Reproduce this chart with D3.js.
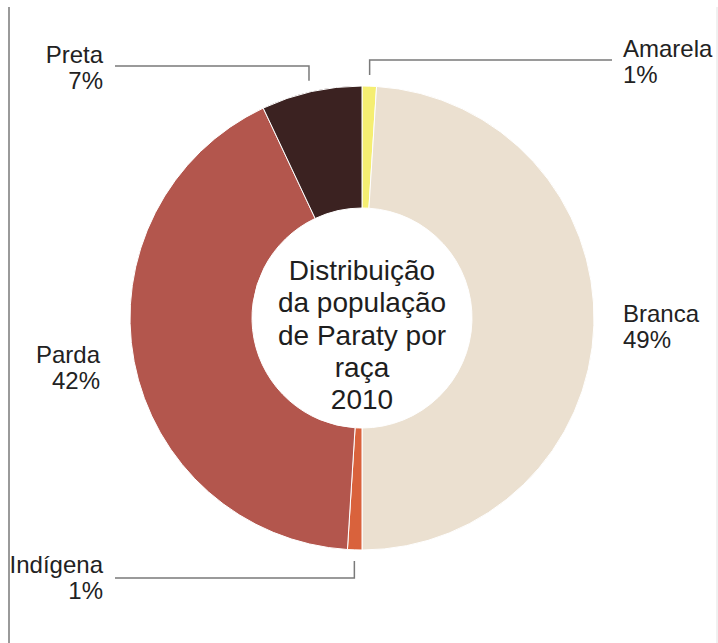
<!DOCTYPE html>
<html>
<head>
<meta charset="utf-8">
<script src="https://cdn.jsdelivr.net/npm/d3@7"></script>
<style>
  html, body { margin: 0; padding: 0; background: #fff; }
  svg { display: block; }
</style>
</head>
<body>
<svg id="chart" width="718" height="643"></svg>
<script>
// Population of Paraty by race, 2010 census (percent)
const categories = ["Amarela", "Branca", "Indígena", "Parda", "Preta"];
const values = [1, 49, 1, 42, 7];
const colors = ["#f5ee72", "#ebe0d0", "#d9623c", "#b3564d", "#3b2221"];
const titleLines = ["Distribuição", "da população", "de Paraty por", "raça", "2010"];

const svg = d3.select("#chart");
const W = 718, H = 643;
const cx = 362, cy = 318;
const outerR = 232, innerR = 110;

// frame edges
svg.append("line").attr("x1", 9).attr("x2", 9).attr("y1", 7).attr("y2", H)
  .attr("stroke", "#9a9a9a").attr("stroke-width", 2);
svg.append("line").attr("x1", 717).attr("x2", 717).attr("y1", 7).attr("y2", H)
  .attr("stroke", "#e2e2e2").attr("stroke-width", 1);

const data = categories.map((c, i) => ({ name: c, value: values[i], color: colors[i] }));

const pie = d3.pie().value(d => d.value).sort(null);
const arcs = pie(data);
const arc = d3.arc().innerRadius(innerR).outerRadius(outerR);

const g = svg.append("g").attr("transform", `translate(${cx},${cy})`);
g.selectAll("path.slice")
  .data(arcs)
  .join("path")
  .attr("class", "slice")
  .attr("d", arc)
  .attr("fill", d => d.data.color)
  .attr("stroke", "#fff")
  .attr("stroke-width", 1);

// centre title
const title = g.append("text")
  .attr("text-anchor", "middle")
  .attr("font-family", "Liberation Sans, Arial, sans-serif")
  .attr("font-size", 28)
  .attr("fill", "#1e1e1e");
titleLines.forEach((t, i) => {
  title.append("tspan").attr("x", 0).attr("y", -38 + i * 32.3).text(t);
});

// callout labels with leader lines
const labelLayout = {
  "Amarela":  { side: "right", tx: 623, ty: 57,  line: true,  hy: 60 },
  "Branca":   { side: "right", tx: 623, ty: 322, line: false },
  "Indígena": { side: "left",  tx: 103, ty: 573, line: true,  hy: 578 },
  "Parda":    { side: "left",  tx: 100, ty: 363, line: false },
  "Preta":    { side: "left",  tx: 103, ty: 63,  line: true,  hy: 66 }
};

const labels = svg.append("g")
  .attr("font-family", "Liberation Sans, Arial, sans-serif")
  .attr("font-size", 24)
  .attr("fill", "#222");

arcs.forEach(a => {
  const L = labelLayout[a.data.name];
  const anchor = L.side === "right" ? "start" : "end";
  const t = labels.append("text").attr("text-anchor", anchor);
  t.append("tspan").attr("x", L.tx).attr("y", L.ty).text(a.data.name);
  t.append("tspan").attr("x", L.tx).attr("y", L.ty + 26).text(a.data.value + "%");

  if (L.line) {
    const mid = (a.startAngle + a.endAngle) / 2;
    const px = cx + Math.sin(mid) * (outerR + 11);
    const py = cy - Math.cos(mid) * (outerR + 11);
    const ex = L.side === "right" ? 612 : 115;
    const pts = [[ex, L.hy], [px, L.hy], [px, py]];
    svg.append("path")
      .attr("d", d3.line()(pts))
      .attr("fill", "none")
      .attr("stroke", "#7a7a7a")
      .attr("stroke-width", 1.5);
  }
});
</script>
</body>
</html>
